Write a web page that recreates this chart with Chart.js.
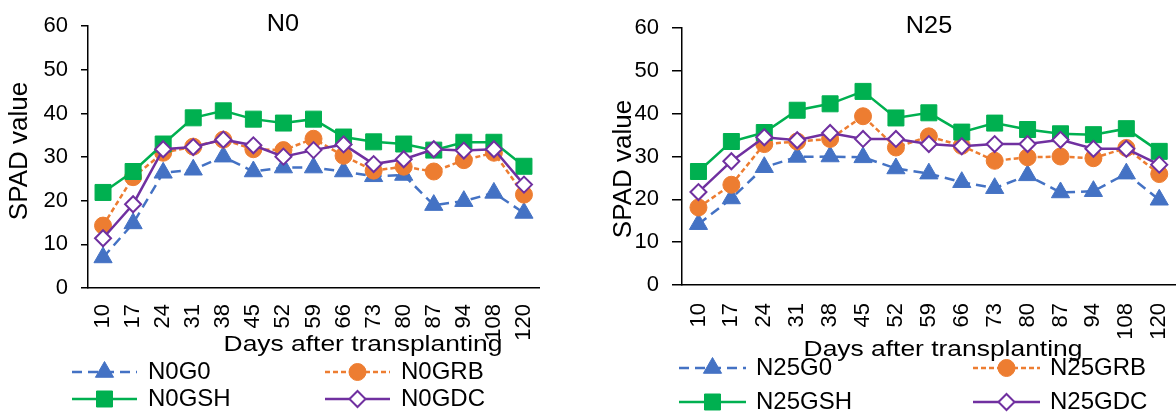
<!DOCTYPE html>
<html>
<head>
<meta charset="utf-8">
<script src="https://cdn.jsdelivr.net/npm/chart.js@4.4.1/dist/chart.umd.min.js"></script>
<style>
    html, body { margin: 0; padding: 0; background: #fff; overflow: hidden; width: 1176px; height: 412px; position: relative; }
    canvas { position: absolute; top: 0; }
    #chart-n0 { left: 0; }
    #chart-n25 { left: 588px; }
</style>
</head>
<body>
<canvas id="chart-n0" width="560" height="412"></canvas>
<canvas id="chart-n25" width="600" height="412"></canvas>
<script>
// Days after transplanting
const days = ['10', '17', '24', '31', '38', '45', '52', '59', '66', '73', '80', '87', '94', '108', '120'];

// SPAD values, N0 panel
const n0G0  = [7.0, 14.8, 26.4, 27.1, 30.1, 26.7, 27.6, 27.6, 26.7, 25.6, 25.9, 19.0, 19.9, 21.8, 17.2];
const n0GRB = [14.3, 25.4, 31.0, 32.4, 34.0, 31.8, 31.6, 34.2, 30.3, 26.9, 27.8, 26.7, 29.3, 31.0, 21.4];
const n0GSH = [21.9, 26.7, 33.0, 39.0, 40.6, 38.7, 37.8, 38.7, 34.6, 33.5, 33.0, 31.6, 33.4, 33.4, 27.9];
const n0GDC = [11.4, 19.2, 31.8, 32.3, 34.0, 32.7, 30.1, 31.6, 32.9, 28.4, 29.5, 31.8, 31.5, 31.8, 23.7];

// SPAD values, N25 panel
const n25G0  = [14.2, 20.2, 27.5, 29.9, 30.0, 29.8, 27.2, 26.0, 24.0, 22.6, 25.6, 21.6, 21.9, 26.0, 19.9];
const n25GRB = [18.1, 23.4, 32.9, 33.5, 34.1, 39.4, 32.1, 34.7, 32.5, 29.0, 29.8, 30.0, 29.6, 32.0, 25.9];
const n25GSH = [26.5, 33.5, 35.6, 40.8, 42.3, 45.2, 39.0, 40.2, 35.7, 37.8, 36.3, 35.3, 35.1, 36.5, 31.2];
const n25GDC = [21.7, 28.9, 34.5, 33.8, 35.5, 34.1, 34.1, 32.9, 32.4, 32.9, 32.9, 33.9, 31.8, 31.8, 28.1];

const n0Names  = ['N0G0', 'N0GRB', 'N0GSH', 'N0GDC'];
const n25Names = ['N25G0', 'N25GRB', 'N25GSH', 'N25GDC'];

const FONT = '"Liberation Sans", Arial, sans-serif';

// one style per treatment: G0, GRB, GSH, GDC
const styles = [
    { color: '#4472C4', fill: '#4472C4', dash: [10, 6], point: 'triangle', radius: 10.5, pointBorder: 1 },
    { color: '#ED7D31', fill: '#ED7D31', dash: [5, 3], point: 'circle', radius: 8.5, pointBorder: 1 },
    { color: '#00B050', fill: '#00B050', dash: [], point: 'rect', radius: 11.3, pointBorder: 1 },
    { color: '#7030A0', fill: '#FFFFFF', dash: [], point: 'rectRot', radius: 8, pointBorder: 2 }
];

function textAt(ctx, text, x, y, size, opts = {}) {
    ctx.save();
    ctx.translate(x, y);
    if (opts.rotate) ctx.rotate(opts.rotate);
    ctx.scale(opts.sx || 1, 1);
    ctx.font = size + 'px ' + FONT;
    ctx.fillStyle = '#000';
    ctx.textAlign = opts.align || 'center';
    ctx.textBaseline = opts.baseline || 'middle';
    ctx.fillText(text, 0, 0);
    ctx.restore();
}

// titles, axis titles and the two-column legend
const panelText = {
    id: 'panelText',
    afterDraw(chart, args, o) {
        const ctx = chart.ctx;
        textAt(ctx, o.title.text, o.title.x, o.title.y, 23, { sx: 1.1 });
        textAt(ctx, 'SPAD value', o.yTitle.x, o.yTitle.y, 26, { rotate: -Math.PI / 2 });
        textAt(ctx, 'Days after transplanting', o.xTitle.x, o.xTitle.y, 22, { sx: 1.2, baseline: 'alphabetic' });

        const lg = o.legend;
        chart.data.datasets.forEach((ds, i) => {
            const st = styles[i];
            const x0 = lg.x[i % 2];
            const y = lg.y[Math.floor(i / 2)];
            ctx.save();
            ctx.strokeStyle = st.color;
            ctx.lineWidth = 2.5;
            ctx.setLineDash(st.dash);
            ctx.beginPath();
            ctx.moveTo(x0, y);
            ctx.lineTo(x0 + lg.lineLen, y);
            ctx.stroke();
            ctx.setLineDash([]);
            ctx.fillStyle = st.fill;
            ctx.lineWidth = st.pointBorder;
            Chart.helpers.drawPoint(ctx, {
                pointStyle: st.point, radius: st.radius, rotation: 0, borderWidth: st.pointBorder
            }, x0 + lg.lineLen / 2, y);
            ctx.restore();
            textAt(ctx, ds.label, x0 + lg.lineLen + lg.gap, y, 24, { align: 'left' });
        });
    }
};

function makeDatasets(names, series) {
    return series.map((values, i) => ({
        label: names[i],
        data: values,
        borderColor: styles[i].color,
        borderWidth: 2.5,
        borderDash: styles[i].dash,
        backgroundColor: styles[i].fill,
        pointStyle: styles[i].point,
        pointRadius: styles[i].radius,
        pointBackgroundColor: styles[i].fill,
        pointBorderColor: styles[i].color,
        pointBorderWidth: styles[i].pointBorder,
        tension: 0,
        order: series.length - i
    }));
}

function makeChart(canvasId, names, series, geo) {
    return new Chart(document.getElementById(canvasId), {
        type: 'line',
        data: { labels: days, datasets: makeDatasets(names, series) },
        plugins: [panelText],
        options: {
            responsive: false,
            animation: false,
            devicePixelRatio: 1,
            layout: { padding: geo.padding },
            plugins: {
                legend: { display: false },
                tooltip: { enabled: false },
                panelText: geo.text
            },
            scales: {
                x: {
                    offset: true,
                    grid: { display: true, drawOnChartArea: false, drawTicks: false },
                    border: { display: true, color: '#000', width: 1.5 },
                    ticks: {
                        autoSkip: false, minRotation: 90, maxRotation: 90,
                        padding: geo.xTickPad, color: '#000',
                        font: { family: FONT, size: 22 }
                    },
                    afterFit(scale) {
                        // fixed band under the plot; labels may run past the plot edge
                        scale.height = 60;
                        scale.paddingLeft = 0;
                        scale.paddingRight = 0;
                    }
                },
                y: {
                    min: 0, max: 60,
                    grid: { drawOnChartArea: false, drawTicks: true, tickLength: geo.tickLen, color: '#000', lineWidth: 1.5 },
                    border: { display: true, color: '#000', width: 1.5 },
                    ticks: {
                        stepSize: 10, padding: geo.yTickPad, color: '#000',
                        font: { family: FONT, size: 22 }
                    },
                    afterFit(scale) { scale.width = geo.yWidth; }
                }
            }
        }
    });
}

makeChart('chart-n0', n0Names, [n0G0, n0GRB, n0GSH, n0GDC], {
    padding: { left: 0, right: 21, top: 21, bottom: 64 },
    yWidth: 88, tickLen: 7, yTickPad: 13, xTickPad: 16,
    text: {
        title: { text: 'N0', x: 283, y: 25 },
        yTitle: { x: 20, y: 151 },
        xTitle: { x: 363, y: 351 },
        legend: { x: [72, 325], y: [372, 399], lineLen: 65, gap: 11 }
    }
});

makeChart('chart-n25', n25Names, [n25G0, n25GRB, n25GSH, n25GDC], {
    padding: { left: 0, right: 8, top: 28, bottom: 67 },
    yWidth: 94, tickLen: 10, yTickPad: 13, xTickPad: 18,
    text: {
        title: { text: 'N25', x: 341, y: 27 },
        yTitle: { x: 36, y: 169 },
        xTitle: { x: 355, y: 356 },
        legend: { x: [91, 385], y: [368, 402], lineLen: 67, gap: 10 }
    }
});
</script>
</body>
</html>
